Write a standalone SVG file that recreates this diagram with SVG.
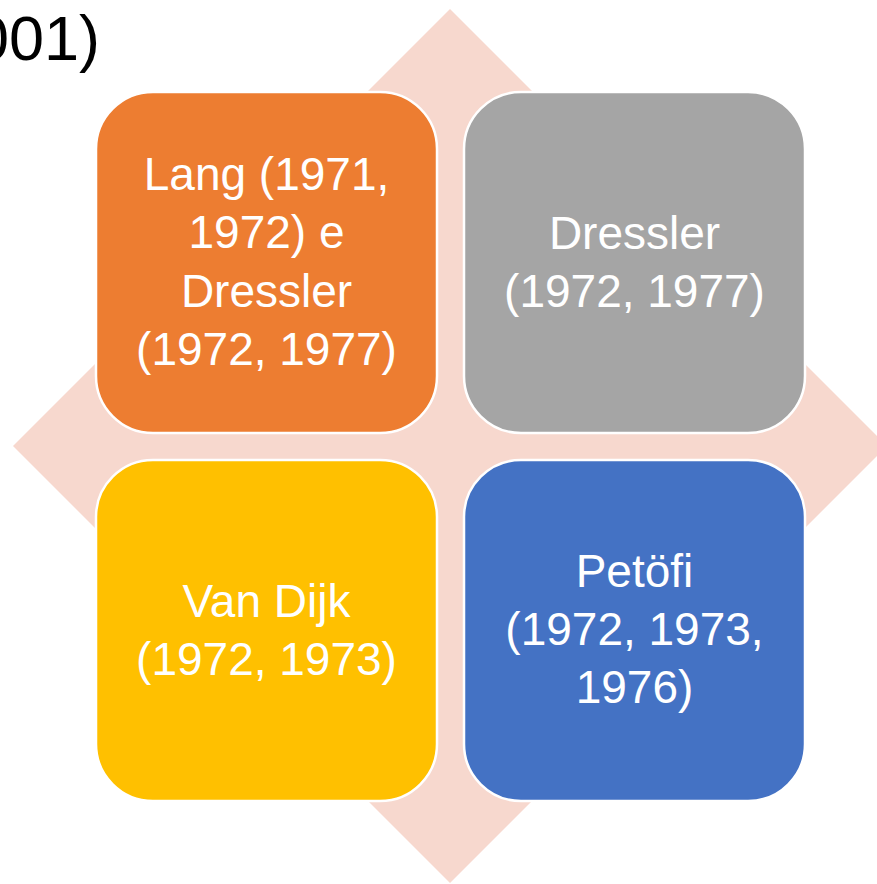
<svg xmlns="http://www.w3.org/2000/svg" width="877" height="884" viewBox="0 0 877 884">
<style>
.box{stroke:#FFFFFF;stroke-width:2.5}
.lbl{font-family:"Liberation Sans",Arial,sans-serif;font-size:46px;fill:#FFFFFF;text-anchor:middle}
.title{font-family:"Liberation Sans",Arial,sans-serif;font-size:63px;fill:#000000}
</style>
<rect width="877" height="884" fill="#FFFFFF"/>
<text class="title" x="100" y="60" text-anchor="end">001)</text>
<polygon id="diamond" points="450,9 887,446 450,883 13,446" fill="#F7D8CE"/>
<g id="connectors"></g>
<g id="node-orange">
<rect class="box" x="96" y="92" width="341" height="341" rx="57" fill="#ED7D31"/>
<text class="lbl" x="266.5" y="190">Lang (1971,</text>
<text class="lbl" x="266.5" y="248">1972) e</text>
<text class="lbl" x="266.5" y="307">Dressler</text>
<text class="lbl" x="266.5" y="365">(1972, 1977)</text>
</g>
<g id="node-gray">
<rect class="box" x="464" y="92" width="341" height="341" rx="57" fill="#A5A5A5"/>
<text class="lbl" x="634.5" y="249">Dressler</text>
<text class="lbl" x="634.5" y="307">(1972, 1977)</text>
</g>
<g id="node-yellow">
<rect class="box" x="96" y="460" width="341" height="341" rx="57" fill="#FFC000"/>
<text class="lbl" x="266.5" y="617">Van Dijk</text>
<text class="lbl" x="266.5" y="675">(1972, 1973)</text>
</g>
<g id="node-blue">
<rect class="box" x="464" y="460" width="341" height="341" rx="57" fill="#4472C4"/>
<text class="lbl" x="634.5" y="587">Petöfi</text>
<text class="lbl" x="634.5" y="645">(1972, 1973,</text>
<text class="lbl" x="634.5" y="703">1976)</text>
</g>
</svg>
